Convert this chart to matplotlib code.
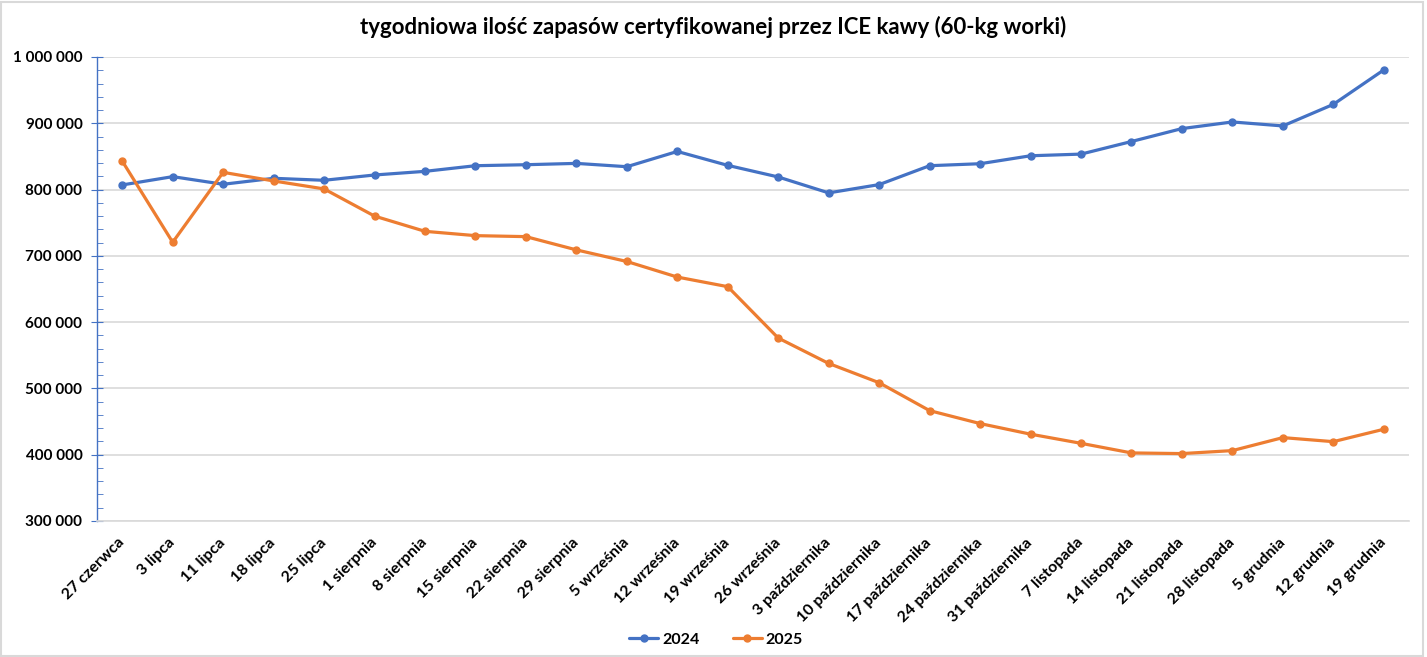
import matplotlib
matplotlib.use("Agg")
import matplotlib.pyplot as plt
from matplotlib.ticker import FuncFormatter, MultipleLocator
from matplotlib.patches import Rectangle

categories = ["27 czerwca", "3 lipca", "11 lipca", "18 lipca", "25 lipca",
              "1 sierpnia", "8 sierpnia", "15 sierpnia", "22 sierpnia", "29 sierpnia",
              "5 września", "12 września", "19 września", "26 września",
              "3 października", "10 października", "17 października",
              "24 października", "31 października", "7 listopada", "14 listopada",
              "21 listopada", "28 listopada", "5 grudnia", "12 grudnia", "19 grudnia"]

series_2024 = [807000, 819500, 808000, 817000, 814000, 822000, 827500, 836000,
               837500, 839500, 834500, 857500, 836500, 819000, 795000, 807500,
               836000, 839000, 851000, 853500, 872500, 892000, 902000, 896000,
               928500, 980500]

series_2025 = [843000, 720500, 826000, 813000, 801000, 760000, 737000, 730500,
               729000, 709000, 691500, 668000, 653500, 576000, 537700, 508600,
               466500, 447000, 431000, 417200, 402700, 401700, 406200, 425800,
               419700, 438400]

title = "tygodniowa ilość zapasów certyfikowanej przez ICE kawy (60-kg worki)"
FONT = ["Lato", "DejaVu Sans"]
plt.rcParams['font.family'] = FONT

BLUE = "#4472C4"
ORANGE = "#ED7D31"

fig = plt.figure(figsize=(14.27, 6.57), dpi=100)
W, H = 1427, 657
ax = fig.add_axes([97 / W, 1 - 521 / H, (1409 - 97) / W, (521 - 57) / H])

x = list(range(len(categories)))
ax.plot(x, series_2024, color=BLUE, lw=2.3, marker="o", ms=5, label="2024",
        solid_capstyle="round", solid_joinstyle="round")
ax.plot(x, series_2025, color=ORANGE, lw=2.3, marker="o", ms=5, label="2025",
        solid_capstyle="round", solid_joinstyle="round")

ax.set_xlim(-0.5, len(categories) - 0.5)
ax.set_ylim(300000, 1000000)
ax.yaxis.set_major_locator(MultipleLocator(100000))
ax.yaxis.set_minor_locator(MultipleLocator(20000))
ax.yaxis.set_major_formatter(FuncFormatter(lambda v, p: f"{int(v):,}".replace(",", " ")))
ax.grid(axis="y", which="major", color="#D9D9D9", lw=1.2)
ax.set_axisbelow(True)

for s in ["top", "right"]:
    ax.spines[s].set_visible(False)
ax.spines["bottom"].set_color("#D9D9D9")
ax.spines["bottom"].set_linewidth(1.2)
ax.spines["left"].set_color(BLUE)
ax.spines["left"].set_linewidth(1.0)

ax.tick_params(axis="y", which="major", direction="inout", length=9, color=BLUE,
               labelsize=11, pad=6)
ax.tick_params(axis="y", which="minor", direction="in", length=4, color=BLUE)
for lab in ax.get_yticklabels():
    lab.set_fontweight("bold")

ax.set_xticks(x)
ax.set_xticklabels(categories, rotation=45, ha="right", va="center",
                   rotation_mode="anchor", fontsize=11.5, fontweight="bold")
ax.tick_params(axis="x", length=0, pad=14)

fig.text(0.5, 1 - 27 / H, title, ha="center", va="center", fontsize=16,
         fontweight="bold")

leg = fig.legend(loc="center", bbox_to_anchor=(716 / W, 1 - 640 / H), ncol=2,
                 frameon=False, prop={"weight": "bold", "size": 11.5},
                 handlelength=1.8, handletextpad=0.25, columnspacing=2.1)

fig.patches.append(Rectangle((1 / W, 1 / H), 1 - 5 / W, 1 - 3 / H,
                             transform=fig.transFigure, fill=False,
                             edgecolor="#D9D9D9", lw=1.5))

fig.savefig("out.png", dpi=100, facecolor="white")
